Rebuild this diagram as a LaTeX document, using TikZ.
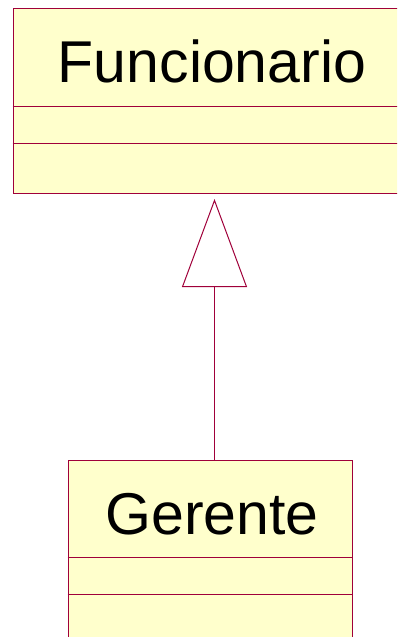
\documentclass[tikz,border=0pt]{standalone}
\usepackage{fontspec}
\setmainfont{Liberation Sans}
\usetikzlibrary{arrows.meta,calc}
\definecolor{umlfill}{HTML}{FFFFCC}
\definecolor{umlline}{HTML}{A0003A}
\tikzset{
  classbox/.style={draw=umlline, fill=umlfill, line width=1pt, inner sep=0pt, anchor=north west},
  classname/.style={font=\fontsize{59}{59}\selectfont, anchor=base, inner sep=0pt},
  sepline/.style={draw=umlline, line width=1pt},
  inherit/.style={draw=umlline, line width=1pt, -{Triangle[open, length=88pt, width=65pt, fill=white]}, shorten >=6pt}
}
\begin{document}
\begin{tikzpicture}[x=1pt,y=-1pt]
\useasboundingbox (0,0) rectangle (397,637);
\clip (0,0) rectangle (397,637);
% Funcionario
\node[classbox, minimum width=407.5pt, minimum height=185.5pt] (func) at (12.5,7.5) {};
\draw[sepline] (12.5,106) -- (420,106);
\draw[sepline] (12.5,143) -- (420,143);
\node[classname] (funcname) at (212,82) {Funcionario};
% Gerente
\node[classbox, minimum width=284pt, minimum height=200pt] (ger) at (67.5,459.5) {};
\draw[sepline] (67.5,557.5) -- (351.5,557.5);
\draw[sepline] (67.5,594.5) -- (351.5,594.5);
\node[classname] (gername) at (212,534) {Gerente};
% generalization
\coordinate (gtop) at (214.5,459.5);
\coordinate (fbot) at (214.5,193);
\draw[inherit] (gtop) -- (fbot);
\end{tikzpicture}
\end{document}
